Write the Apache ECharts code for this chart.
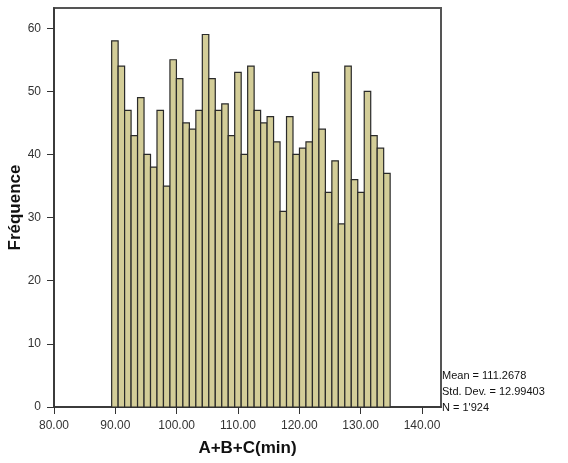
<!DOCTYPE html>
<html>
<head>
<meta charset="utf-8">
<script src="https://cdn.jsdelivr.net/npm/echarts@6/dist/echarts.min.js"></script>
<style>
  html, body { margin: 0; padding: 0; background: #fff; }
  #main { width: 568px; height: 463px; }
</style>
</head>
<body>
<div id="main"></div>
<script>
// histogram counts, one per bin (left to right)
var counts = [58, 54, 47, 43, 49, 40, 38, 47, 35, 55, 52, 45, 44, 47, 59, 52, 47, 48, 43, 53, 40, 54,
              47, 45, 46, 42, 31, 46, 40, 41, 42, 53, 44, 34, 39, 29, 54, 36, 34, 50, 43, 41, 37];
// first bin lower edge and bin width (minutes)
var binStart = 89.4;
var binWidth = 1.056;
var xTicks = [80, 90, 100, 110, 120, 130, 140];
var yTicks = [0, 10, 20, 30, 40, 50, 60];
var statsLines = ['Mean = 111.2678', 'Std. Dev. = 12.99403', "N = 1'924"];

var bins = counts.map(function (c, i) {
    return [binStart + i * binWidth, binStart + (i + 1) * binWidth, c];
});

var myChart = echarts.init(document.getElementById('main'));

var options = {
    animation: false,
    grid: {
        left: 54, right: 127, top: 8, bottom: 56,
        outerBoundsMode: 'none',
        show: true,
        borderColor: '#555',
        borderWidth: 2
    },
    xAxis: {
        type: 'value',
        min: 80,
        max: 143.1,
        name: 'A+B+C(min)',
        nameLocation: 'middle',
        nameGap: 33,
        nameMoveOverlap: false,
        nameTextStyle: { fontFamily: 'Liberation Sans', fontWeight: 'bold', fontSize: 17, color: '#111' },
        axisLine: { show: true, onZero: false, lineStyle: { color: '#333', width: 1.5 } },
        axisTick: { show: true, length: 7, customValues: xTicks, lineStyle: { color: '#333' } },
        axisLabel: {
            customValues: xTicks,
            margin: 13,
            fontFamily: 'Liberation Sans', fontSize: 12, color: '#333',
            formatter: function (v) { return v.toFixed(2); }
        },
        splitLine: { show: false }
    },
    yAxis: {
        type: 'value',
        min: 0,
        max: 63.2,
        name: 'Fréquence',
        nameLocation: 'middle',
        nameGap: 30,
        nameMoveOverlap: false,
        nameTextStyle: { fontFamily: 'Liberation Sans', fontWeight: 'bold', fontSize: 17, color: '#111' },
        axisLine: { show: true, lineStyle: { color: '#333', width: 1.5 } },
        axisTick: { show: true, length: 7, customValues: yTicks, lineStyle: { color: '#333' } },
        axisLabel: {
            customValues: yTicks,
            margin: 13,
            fontFamily: 'Liberation Sans', fontSize: 12, color: '#333'
        },
        splitLine: { show: false }
    },
    series: [{
        type: 'custom',
        data: bins,
        renderItem: function (params, api) {
            var p0 = api.coord([api.value(0), api.value(2)]);
            var p1 = api.coord([api.value(1), 0]);
            return {
                type: 'rect',
                shape: { x: p0[0], y: p0[1], width: p1[0] - p0[0], height: p1[1] - p0[1] },
                style: { fill: '#d3cd98', stroke: '#2a2a2a', lineWidth: 1.2 }
            };
        }
    }],
    graphic: [{
        type: 'text',
        left: 442,
        top: 368,
        style: {
            text: statsLines.join('\n'),
            font: '11px "Liberation Sans"',
            lineHeight: 16,
            fill: '#111'
        }
    }]
};

myChart.setOption(options, true);
</script>
</body>
</html>
